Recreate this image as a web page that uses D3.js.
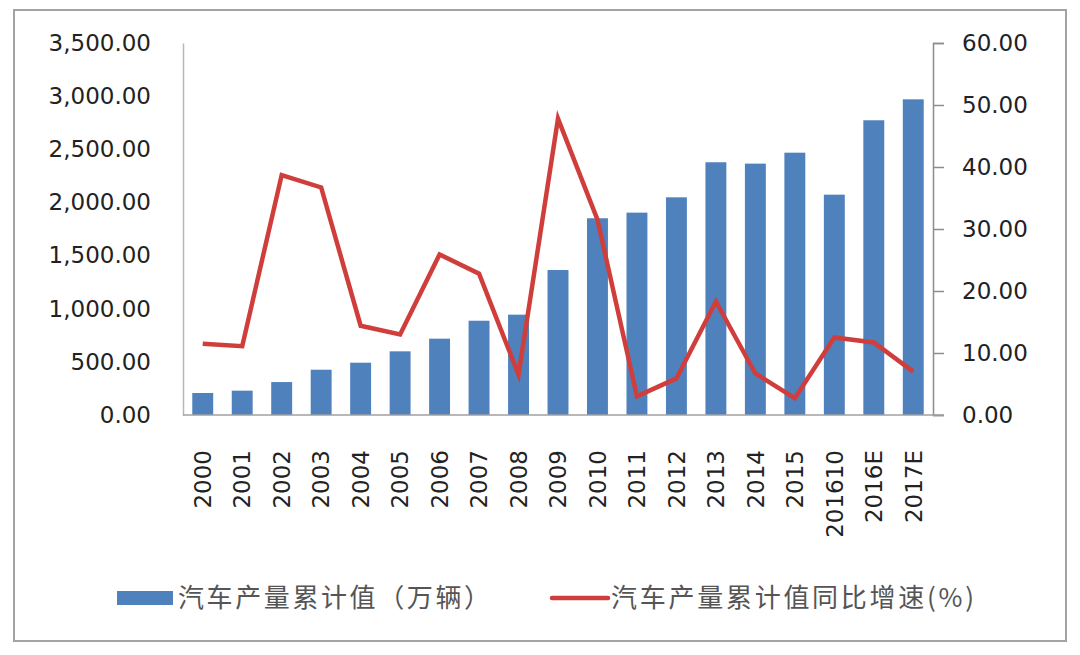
<!DOCTYPE html>
<html>
<head>
<meta charset="utf-8">
<script src="https://cdn.jsdelivr.net/npm/d3@7"></script>
<style>
  html, body { margin: 0; padding: 0; background: #ffffff; }
  svg { display: block; }
</style>
</head>
<body>
<svg id="chart" width="1080" height="655"></svg>
<script>
const categories = ["2000","2001","2002","2003","2004","2005","2006","2007","2008","2009","2010","2011","2012","2013","2014","2015","201610","2016E","2017E"];
const production = [207,229,310,426,492,599,718,887,944,1364,1851,1904,2048,2378,2365,2468,2073,2773,2970];
const growth = [11.5,11.1,38.7,36.7,14.4,13.0,25.9,22.8,6.5,47.8,31.5,3.0,5.9,18.3,6.7,2.7,12.5,11.7,7.0];
const leftTicks = [0,500,1000,1500,2000,2500,3000,3500];
const rightTicks = [0,10,20,30,40,50,60];
const seriesNames = ["汽车产量累计值（万辆）", "汽车产量累计值同比增速(%)"];

const svg = d3.select("#chart");
const plot = { left: 183, right: 933, top: 43, bottom: 415 };
const numFont = "'DejaVu Sans', sans-serif";

// outer frame
svg.append("rect")
  .attr("x", 14).attr("y", 10).attr("width", 1052).attr("height", 631)
  .attr("fill", "#ffffff").attr("stroke", "#a3a3a3").attr("stroke-width", 2);

const x = d3.scaleBand().domain(categories)
  .range([plot.left, plot.right]).paddingInner(0.47).paddingOuter(0.235);
const yL = d3.scaleLinear().domain([0, 3500]).range([plot.bottom, plot.top]);
const yR = d3.scaleLinear().domain([0, 60]).range([plot.bottom, plot.top]);

// bars
svg.append("g").selectAll("rect").data(production).join("rect")
  .attr("x", (d, i) => x(categories[i]))
  .attr("y", d => yL(d))
  .attr("width", x.bandwidth())
  .attr("height", d => yL(0) - yL(d))
  .attr("fill", "#4F81BD");

// left axis
const axL = d3.axisLeft(yL).tickValues(leftTicks).tickFormat(d3.format(",.2f")).tickSize(0).tickPadding(32);
const gL = svg.append("g").attr("transform", `translate(${plot.left},0)`).call(axL);
gL.select(".domain").attr("stroke", "#b8b8b8").attr("stroke-width", 1.5);
gL.selectAll("text").attr("font-family", numFont).attr("font-size", 23).attr("fill", "#222");

// right axis
const axR = d3.axisRight(yR).tickValues(rightTicks).tickFormat(d3.format(".2f")).tickSize(11).tickSizeOuter(11).tickPadding(18);
const gR = svg.append("g").attr("transform", `translate(${plot.right},0)`).call(axR);
gR.select(".domain").attr("stroke", "#8c8c8c").attr("stroke-width", 1.5);
gR.selectAll(".tick line").attr("stroke", "#8c8c8c").attr("stroke-width", 1.5);
gR.selectAll("text").attr("font-family", numFont).attr("font-size", 23).attr("fill", "#222");

// bottom axis
const axB = d3.axisBottom(x).tickSize(0).tickSizeOuter(0).tickPadding(0);
const gB = svg.append("g").attr("transform", `translate(0,${plot.bottom})`).call(axB);
gB.select(".domain").attr("stroke", "#a0a0a0").attr("stroke-width", 1.5)
  .attr("d", `M${plot.left},0H${plot.right + 11}`);
gB.selectAll(".tick text")
  .attr("font-family", numFont).attr("font-size", 23).attr("fill", "#222")
  .attr("text-anchor", "end")
  .attr("transform", "translate(0,35) rotate(-90)")
  .attr("x", 0).attr("y", 0).attr("dy", "0.36em");

// line
const line = d3.line()
  .x((d, i) => x(categories[i]) + x.bandwidth() / 2)
  .y(d => yR(d));
svg.append("path").datum(growth)
  .attr("d", line)
  .attr("fill", "none").attr("stroke", "#D03E3C").attr("stroke-width", 4.5)
  .attr("stroke-linejoin", "miter");

// legend
const lg = svg.append("g");
const legendY = 598;
lg.append("rect").attr("x", 117).attr("y", legendY - 7).attr("width", 56).attr("height", 14).attr("fill", "#4F81BD");
lg.append("text").attr("x", 178).attr("y", legendY).attr("dy", "0.36em")
  .attr("font-family", "'Noto Sans CJK SC', sans-serif").attr("font-size", 26).attr("fill", "#555")
  .attr("textLength", 312).attr("lengthAdjust", "spacing")
  .text(seriesNames[0]);
lg.append("line").attr("x1", 552).attr("x2", 608).attr("y1", legendY).attr("y2", legendY)
  .attr("stroke", "#D03E3C").attr("stroke-width", 4.5).attr("stroke-linecap", "round");
lg.append("text").attr("x", 611).attr("y", legendY).attr("dy", "0.36em")
  .attr("font-family", "'Noto Sans CJK SC', sans-serif").attr("font-size", 26).attr("fill", "#555")
  .attr("textLength", 363).attr("lengthAdjust", "spacing")
  .text(seriesNames[1]);
</script>
</body>
</html>
